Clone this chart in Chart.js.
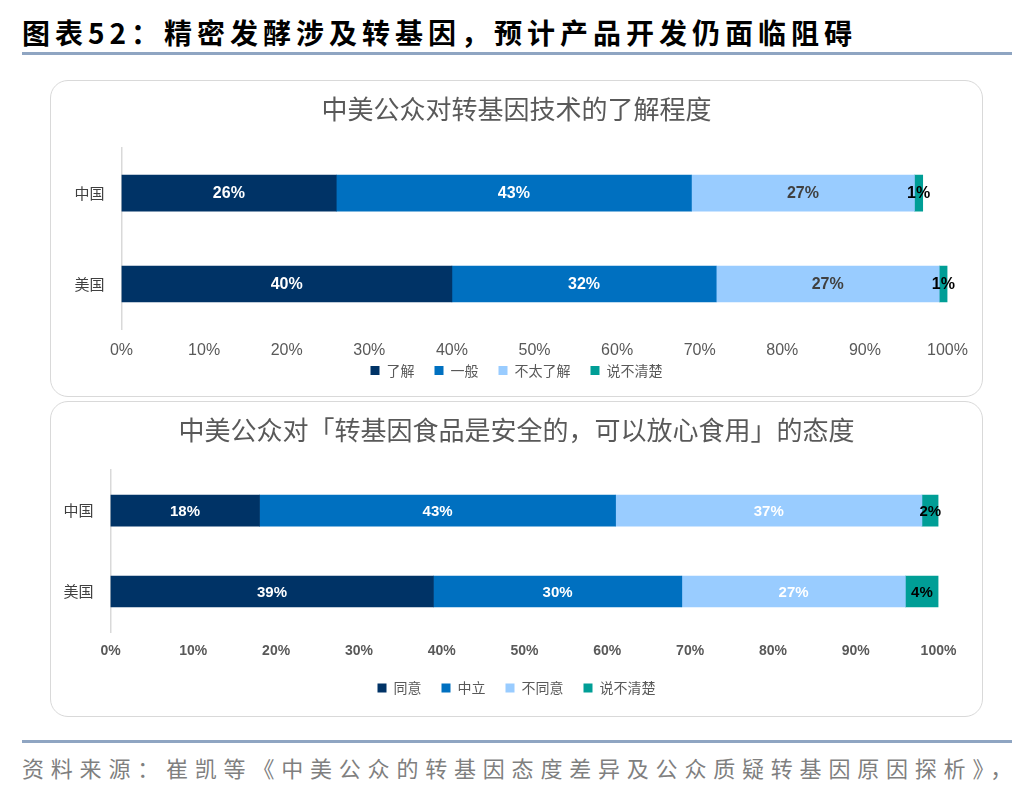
<!DOCTYPE html>
<html>
<head>
<meta charset="utf-8">
<script src="https://cdn.jsdelivr.net/npm/chart.js@4.4.0/dist/chart.umd.min.js"></script>
<style>
  body { margin: 0; width: 1036px; height: 792px; background: #fff; position: relative; overflow: hidden;
         font-family: "Noto Sans CJK SC", sans-serif; }
  #head { position: absolute; left: 22px; top: 12px; font-size: 28px; font-weight: bold; letter-spacing: 5px;
          color: #000; white-space: nowrap; line-height: 40px; }
  .rule { position: absolute; left: 22px; width: 990px; height: 3px; background: #8fa5c2; }
  .panel { position: absolute; left: 50px; width: 931px; border: 1.5px solid #d9d9d9; border-radius: 18px; background: #fff; }
  #src { position: absolute; left: 22px; top: 751px; font-size: 22px; letter-spacing: 6.8px; color: #7f7f7f;
         white-space: nowrap; line-height: 32px; }
</style>
</head>
<body>
<div id="head">图表52：精密发酵涉及转基因，预计产品开发仍面临阻碍</div>
<div class="rule" style="top:52px"></div>

<div class="panel" style="top:80px;height:315px"><canvas id="knowChart"></canvas></div>
<div class="panel" style="top:401px;height:314px"><canvas id="safeChart"></canvas></div>

<div class="rule" style="top:740px"></div>
<div id="src">资料来源：崔凯等《中美公众的转基因态度差异及公众质疑转基因原因探析》，</div>

<script>
// data
const countries = ['中国', '美国'];
const xTicks = [0, 10, 20, 30, 40, 50, 60, 70, 80, 90, 100];

const knowNames = ['了解', '一般', '不太了解', '说不清楚'];
const knowWell = [26, 40];
const knowSome = [43, 32];
const knowLittle = [27, 27];
const knowUnsure = [1, 1];

const safeNames = ['同意', '中立', '不同意', '说不清楚'];
const safeAgree = [18, 39];
const safeNeutral = [43, 30];
const safeDisagree = [37, 27];
const safeUnsure = [2, 4];

const colors = ['#003366', '#0070c0', '#99ccff', '#009e96'];

// draw value labels in the middle of each segment
const barLabels = {
  id: 'barLabels',
  afterDatasetsDraw(chart) {
    const ctx = chart.ctx;
    ctx.save();
    ctx.font = chart.options.plugins.barLabels.font;
    ctx.textAlign = 'center';
    ctx.textBaseline = 'middle';
    chart.data.datasets.forEach((ds, i) => {
      chart.getDatasetMeta(i).data.forEach((bar, j) => {
        ctx.fillStyle = ds.labelColor;
        ctx.fillText(ds.data[j] + '%', (bar.x + bar.base) / 2, bar.y + 1);
      });
    });
    ctx.restore();
  }
};

// tick labels may spill outside their own box
const noClip = s => { s._computeLabelArea = () => undefined; };

function makeChart(id, opts) {
  const datasets = opts.series.map((s, i) => ({
    label: opts.names[i],
    data: s,
    backgroundColor: colors[i],
    borderWidth: 0,
    barThickness: opts.barThickness,
    labelColor: opts.labelColors[i]
  }));
  return new Chart(document.getElementById(id), {
    type: 'bar',
    data: { labels: countries, datasets: datasets },
    plugins: [barLabels],
    options: {
      indexAxis: 'y',
      responsive: true,
      maintainAspectRatio: false,
      animation: false,
      layout: { padding: { left: opts.pad, right: opts.pad, top: 0, bottom: opts.padBottom } },
      plugins: {
        barLabels: { font: opts.labelFont },
        title: {
          display: true,
          text: opts.title,
          color: '#595959',
          font: { size: 26, family: '"Noto Sans CJK SC"', weight: 'normal' },
          padding: { top: 13, bottom: opts.titleGap }
        },
        legend: {
          position: 'bottom',
          labels: {
            color: '#595959',
            boxWidth: 9,
            boxHeight: 9,
            padding: 20,
            font: { size: 14, family: '"Noto Sans CJK SC"' }
          }
        },
        tooltip: { enabled: false }
      },
      scales: {
        x: {
          stacked: true,
          min: 0,
          max: 100,
          afterBuildTicks: s => { s.ticks = xTicks.map(v => ({ value: v })); },
          afterFit: s => { s.height = opts.xHeight; noClip(s); },
          grid: { display: false, drawTicks: false },
          border: { display: false },
          ticks: {
            padding: 11,
            color: '#595959',
            font: opts.tickFont,
            callback: v => v + '%'
          }
        },
        y: {
          stacked: true,
          afterFit: s => { s.width = opts.yWidth - opts.pad; noClip(s); },
          grid: { display: false, drawTicks: false },
          border: { display: true, color: '#d9d9d9', width: 1.5 },
          ticks: {
            padding: 17,
            color: '#404040',
            font: { size: 15, family: '"Noto Sans CJK SC"' }
          }
        }
      }
    }
  });
}

makeChart('knowChart', {
  title: '中美公众对转基因技术的了解程度',
  names: knowNames,
  series: [knowWell, knowSome, knowLittle, knowUnsure],
  labelColors: ['#ffffff', '#ffffff', '#404040', '#000000'],
  barThickness: 36,
  yWidth: 70.5,
  pad: 34.5,
  titleGap: 22.4,
  xHeight: 14,
  padBottom: 8.5,
  tickFont: { size: 16, family: '"Liberation Sans Narrow", "Liberation Sans", Arial, sans-serif' },
  labelFont: 'bold 16px "Liberation Sans Narrow", "Liberation Sans", Arial, sans-serif'
});

makeChart('safeChart', {
  title: '中美公众对「转基因食品是安全的，可以放心食用」的态度',
  names: safeNames,
  series: [safeAgree, safeNeutral, safeDisagree, safeUnsure],
  labelColors: ['#ffffff', '#ffffff', '#ffffff', '#000000'],
  barThickness: 31,
  yWidth: 59.5,
  pad: 43.5,
  titleGap: 23.9,
  xHeight: 29,
  padBottom: 11,
  tickFont: { size: 14, family: '"Liberation Sans", Arial, sans-serif', weight: 'bold' },
  labelFont: 'bold 15px "Liberation Sans", Arial, sans-serif'
});
</script>
</body>
</html>
